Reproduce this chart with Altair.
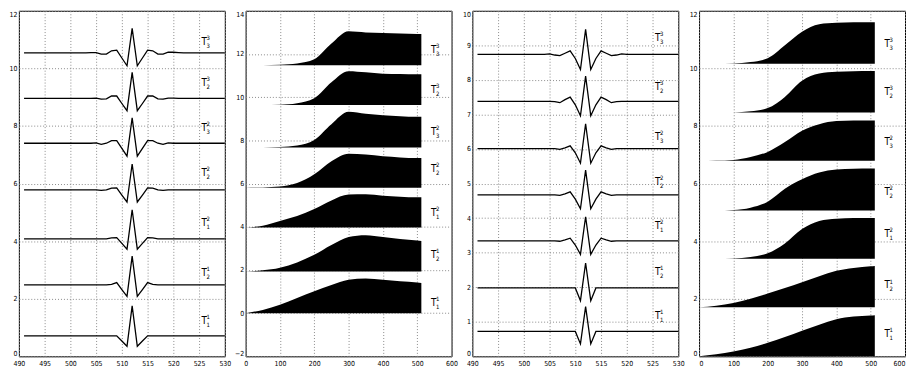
import altair as alt
import pandas as pd

FONT = "Liberation Sans Narrow, DejaVu Sans Condensed, sans-serif"

series = ["T11", "T21", "T12", "T22", "T32", "T23", "T33"]
subs = ["1", "2", "1", "2", "3", "2", "3"]
sups = ["1", "1", "2", "2", "2", "3", "3"]

# ---------- panel 1 : wavelets, x 490..530 ----------
wave_x = list(range(491, 531))
dev_x = list(range(503, 522))  # 503 .. 521
p1_base = [0.71, 2.48, 4.08, 5.78, 7.40, 8.96, 10.54]
p1_dev = [
    [0, 0, 0, 0, 0, 0, 0, -0.18, -0.36, 1.04, -0.36, -0.18, 0, 0, 0, 0, 0, 0, 0],
    [0, 0, 0, 0, 0, 0.02, 0.08, -0.16, -0.40, 1.00, -0.40, -0.16, 0.08, 0.02, 0, 0, 0, 0, 0],
    [0, 0, 0, 0, 0, 0.03, 0.04, -0.16, -0.36, 1.01, -0.36, -0.16, 0.04, 0.03, 0, 0, 0, 0, 0],
    [0, 0, 0, -0.02, 0.0, 0.06, 0.07, -0.18, -0.42, 0.90, -0.42, -0.18, 0.07, 0.06, 0.0, -0.02, 0, 0, 0],
    [0, 0, 0.01, -0.04, 0.0, 0.09, 0.09, -0.18, -0.45, 0.88, -0.45, -0.18, 0.09, 0.09, 0.0, -0.04, 0.01, 0, 0],
    [0, 0, 0.01, -0.03, -0.02, 0.08, 0.08, -0.18, -0.43, 0.90, -0.43, -0.18, 0.08, 0.08, -0.02, -0.03, 0.01, 0.01, 0],
    [0, 0.01, 0.01, -0.045, -0.045, 0.07, 0.09, -0.18, -0.45, 0.85, -0.45, -0.18, 0.09, 0.07, -0.045, -0.045, 0.02, 0.02, 0.01],
]
p1_label_x = 526
p1_label_y = [1.22, 2.88, 4.64, 6.38, 7.94, 9.48, 10.91]

# ---------- panel 3 : wavelets, x 490..530 ----------
p3_base = [0.72, 1.98, 3.34, 4.67, 6.01, 7.38, 8.74]
p3_dev = [
    [0, 0, 0, 0, 0, 0, 0, 0, -0.36, 0.72, -0.36, 0, 0, 0, 0, 0, 0, 0, 0],
    [0, 0, 0, 0, 0, 0, 0, 0, -0.37, 0.72, -0.37, 0, 0, 0, 0, 0, 0, 0, 0],
    [0, 0, 0, 0, -0.01, 0.03, 0.08, -0.12, -0.39, 0.70, -0.39, -0.12, 0.08, 0.03, -0.01, 0, 0, 0, 0],
    [0, 0, 0, 0, -0.01, 0.03, 0.09, -0.12, -0.40, 0.72, -0.40, -0.12, 0.09, 0.03, -0.01, 0, 0, 0, 0],
    [0, 0, 0, 0, -0.02, 0.02, 0.08, -0.12, -0.42, 0.72, -0.42, -0.12, 0.08, 0.02, -0.02, 0, 0, 0, 0],
    [0, 0, 0, -0.01, -0.04, 0.05, 0.12, -0.10, -0.42, 0.73, -0.42, -0.10, 0.12, 0.05, -0.04, -0.01, 0, 0, 0],
    [0, 0, 0.01, -0.02, -0.04, 0.03, 0.10, -0.12, -0.44, 0.72, -0.44, -0.12, 0.10, 0.03, -0.04, -0.02, 0.01, 0, 0],
]
p3_label_x = 526
p3_label_y = [1.17, 2.43, 3.78, 5.05, 6.35, 7.80, 9.20]

# ---------- panel 2 : filled curves, x 0..600 ----------
area_x = [0, 50, 100, 150, 200, 250, 300, 350, 400, 450, 500, 512]
p2_base = [0, 1.93, 3.97, 5.81, 7.67, 9.64, 11.48]
p2_vals = [
    [0, 0.15, 0.39, 0.70, 1.01, 1.30, 1.54, 1.60, 1.55, 1.48, 1.42, 1.40],
    [1.93, 1.98, 2.10, 2.35, 2.70, 3.15, 3.52, 3.61, 3.52, 3.43, 3.36, 3.34],
    [3.97, 4.05, 4.27, 4.50, 4.82, 5.22, 5.49, 5.50, 5.43, 5.39, 5.36, 5.36],
    [5.81, 5.82, 5.86, 6.02, 6.43, 7.03, 7.38, 7.34, 7.26, 7.21, 7.18, 7.18],
    [7.67, 7.67, 7.69, 7.76, 8.02, 8.75, 9.32, 9.23, 9.16, 9.12, 9.09, 9.09],
    [9.64, 9.64, 9.65, 9.72, 9.95, 10.69, 11.20, 11.15, 11.09, 11.07, 11.06, 11.06],
    [11.48, 11.48, 11.50, 11.56, 11.75, 12.48, 13.05, 13.00, 12.97, 12.95, 12.93, 12.93],
]
p2_label_x = 548
p2_label_y = [0.46, 2.70, 4.64, 6.66, 8.37, 10.31, 12.18]

# ---------- panel 4 : filled curves, x 0..600 ----------
p4_base = [0, 1.70, 3.39, 5.06, 6.79, 8.47, 10.16]
p4_vals = [
    [0, 0.07, 0.17, 0.30, 0.47, 0.67, 0.89, 1.10, 1.29, 1.38, 1.42, 1.43],
    [1.70, 1.76, 1.85, 2.00, 2.18, 2.37, 2.57, 2.78, 2.97, 3.07, 3.13, 3.14],
    [3.39, 3.39, 3.40, 3.45, 3.58, 3.92, 4.42, 4.70, 4.78, 4.80, 4.80, 4.80],
    [5.06, 5.06, 5.08, 5.16, 5.37, 5.82, 6.15, 6.38, 6.49, 6.51, 6.52, 6.52],
    [6.79, 6.80, 6.82, 6.92, 7.10, 7.44, 7.83, 8.06, 8.17, 8.19, 8.19, 8.19],
    [8.47, 8.47, 8.47, 8.51, 8.62, 9.01, 9.57, 9.82, 9.88, 9.90, 9.91, 9.91],
    [10.16, 10.16, 10.17, 10.22, 10.35, 10.80, 11.27, 11.53, 11.58, 11.60, 11.60, 11.60],
]
p4_label_x = 548
p4_label_y = [0.78, 2.46, 4.25, 5.72, 7.44, 9.18, 10.86]

W, H = 208, 349


def xaxis(vals, flush=False):
    return alt.Axis(values=vals, grid=True, gridDash=[1, 2], gridColor="#8a8a8a",
                    domain=False, ticks=False, labelFont=FONT, labelFontSize=7,
                    labelPadding=3, labelFlush=flush, labelOverlap=False, title=None,
                    labelColor="black")


def yaxis(vals):
    return alt.Axis(values=vals, grid=True, gridDash=[1, 2], gridColor="#8a8a8a",
                    domain=False, ticks=False, labelFont=FONT, labelFontSize=7,
                    labelPadding=2, labelFlush=True, labelOverlap=False, title=None,
                    minExtent=8, maxExtent=8, labelColor="black")


def label_layers(lx, ly, xs, ys, xax, yax):
    df = pd.DataFrame({"x": [lx] * 7, "y": ly, "sub": subs, "sup": sups})
    base = alt.Chart(df).encode(x=alt.X("x:Q", scale=xs, axis=xax),
                                y=alt.Y("y:Q", scale=ys, axis=yax))
    t = base.mark_text(font=FONT, fontSize=10, color="black").encode(text=alt.value("T"))
    sp = base.mark_text(font=FONT, fontSize=6, color="black", dx=4, dy=-4).encode(text="sup:N")
    sb = base.mark_text(font=FONT, fontSize=6, color="black", dx=4, dy=4).encode(text="sub:N")
    return [t, sp, sb]


def wave_panel(bases, devs, lx, ly, ydom, yvals):
    rows = []
    for i, s in enumerate(series):
        d = dict(zip(dev_x, devs[i]))
        for x in wave_x:
            rows.append({"series": s, "x": x, "y": bases[i] + d.get(x, 0.0)})
    df = pd.DataFrame(rows)
    xs = alt.Scale(domain=[490, 530], nice=False, zero=False)
    ys = alt.Scale(domain=ydom, nice=False, zero=False)
    xax = xaxis(list(range(490, 531, 5)))
    yax = yaxis(yvals)
    line = alt.Chart(df).mark_line(color="black", strokeWidth=1.3).encode(
        x=alt.X("x:Q", scale=xs, axis=xax),
        y=alt.Y("y:Q", scale=ys, axis=yax),
        detail="series:N",
    )
    return alt.layer(line, *label_layers(lx, ly, xs, ys, xax, yax)).properties(width=W, height=H)


def area_panel(bases, vals, lx, ly, ydom, yvals, flush=False):
    rows = []
    for i, s in enumerate(series):
        for x, v in zip(area_x, vals[i]):
            rows.append({"series": s, "x": x, "y": v, "base": bases[i]})
    df = pd.DataFrame(rows)
    xs = alt.Scale(domain=[0, 600], nice=False, zero=False)
    ys = alt.Scale(domain=ydom, nice=False, zero=False)
    xax = xaxis(list(range(0, 601, 100)), flush)
    yax = yaxis(yvals)
    area = alt.Chart(df).mark_area(color="black", interpolate="monotone").encode(
        x=alt.X("x:Q", scale=xs, axis=xax),
        y=alt.Y("y:Q", scale=ys, axis=yax, stack=None),
        y2="base:Q",
        detail="series:N",
    )
    return alt.layer(area, *label_layers(lx, ly, xs, ys, xax, yax)).properties(width=W, height=H)


p1 = wave_panel(p1_base, p1_dev, p1_label_x, p1_label_y, [0, 12], list(range(0, 13, 2)))
p2 = area_panel(p2_base, p2_vals, p2_label_x, p2_label_y, [-2, 14], list(range(-2, 15, 2)))
p3 = wave_panel(p3_base, p3_dev, p3_label_x, p3_label_y, [0, 10], list(range(0, 11, 1)))
p4 = area_panel(p4_base, p4_vals, p4_label_x, p4_label_y, [0, 12], list(range(0, 13, 2)), flush=True)

chart = alt.hconcat(p1, p2, p3, p4, spacing=21, bounds="flush").properties(
    padding=0, background="white"
).configure_view(stroke="black", strokeWidth=1)

chart.save("out.html", embed_options={"renderer": "svg", "actions": False})
